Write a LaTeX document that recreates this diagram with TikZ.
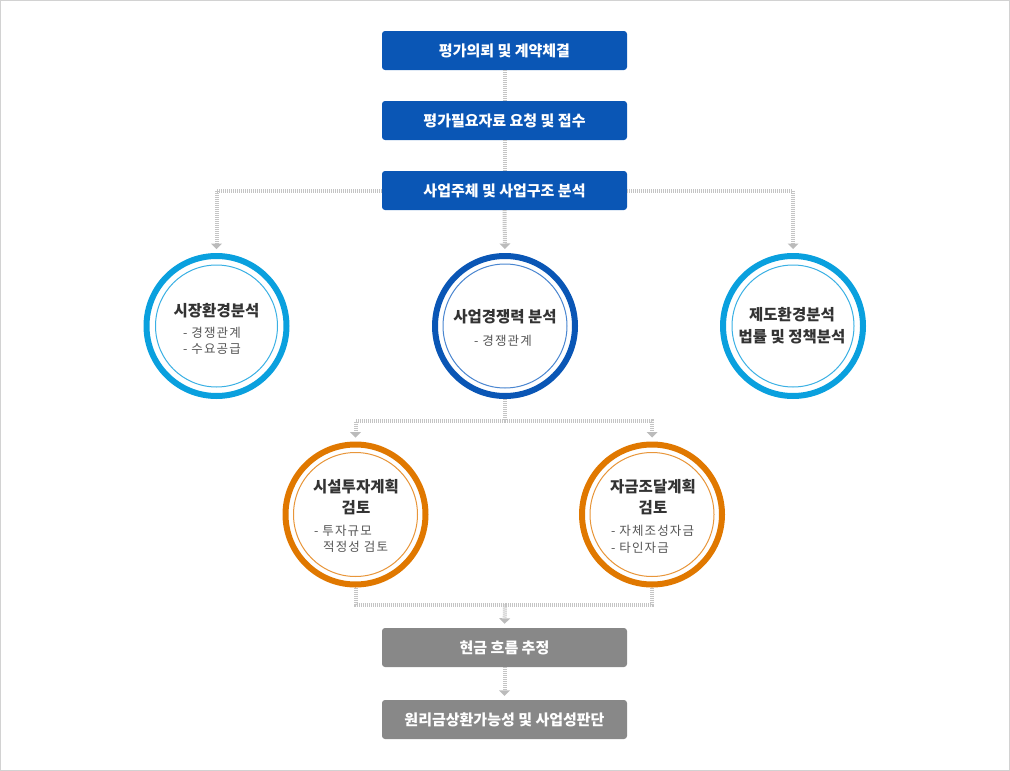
\documentclass[tikz,border=0pt]{standalone}
\usepackage{fontspec}
\setmainfont{Noto Sans CJK KR}
\newfontfamily\krsp[LetterSpace=9]{Noto Sans CJK KR}
\usetikzlibrary{arrows.meta}
\definecolor{boxblue}{HTML}{0A56B5}
\definecolor{boxgray}{HTML}{888888}
\definecolor{ltblue}{HTML}{0AA0DE}
\definecolor{ltblueIn}{HTML}{3AB0E4}
\definecolor{dkblue}{HTML}{0A56B5}
\definecolor{dkblueIn}{HTML}{4A86D0}
\definecolor{orng}{HTML}{E07800}
\definecolor{orngIn}{HTML}{E8963A}
\definecolor{connc}{HTML}{C4C4C4}
\definecolor{arrc}{HTML}{BBBBBB}
\definecolor{frame}{HTML}{D2D2D2}
\definecolor{ttl}{HTML}{333333}
\definecolor{sub}{HTML}{555555}
\begin{document}
\begin{tikzpicture}[x=1pt,y=-1pt,
  box/.style={rounded corners=3pt, minimum width=245pt, minimum height=39pt, inner sep=0pt, text=white, font=\bfseries\fontsize{15}{17}\selectfont},
  bluebox/.style={box, fill=boxblue},
  graybox/.style={box, fill=boxgray},
  ring/.style={circle, line width=6pt, minimum size=140pt, inner sep=0pt, fill=white},
  inring/.style={line width=1pt},
  conn/.style={draw=connc, line width=4pt, dash pattern=on 1pt off 1pt},
  arr/.style={conn, -{Triangle[width=11pt,length=5.5pt,line width=0pt,color=arrc]}, shorten >=4pt},
  ttlt/.style={inner sep=0pt, text=ttl, font=\bfseries\fontsize{15.5}{18}\selectfont},
  subt/.style={inner sep=0pt, anchor=west, text=sub, font=\krsp\fontsize{12.5}{15}\selectfont},
]
\useasboundingbox (0,0) rectangle (1010,771);
\draw[frame, line width=1pt] (0.5,0.5) rectangle (1009.5,770.5);

% boxes
\node[bluebox] (b1) at (504.5,50.5) {평가의뢰 및 계약체결};
\node[bluebox] (b2) at (504.5,120.5) {평가필요자료 요청 및 접수};
\node[bluebox] (b3) at (504.5,190.5) {사업주체 및 사업구조 분석};
\node[graybox] (b4) at (504.5,647.5) {현금 흐름 추정};
\node[graybox] (b5) at (504.5,719.5) {원리금상환가능성 및 사업성판단};

% circles
\node[ring, draw=ltblue] (c1) at (216.5,326) {};
\node[ring, draw=dkblue] (c2) at (505,326) {};
\node[ring, draw=ltblue] (c3) at (793,326) {};
\node[ring, draw=orng] (o1) at (355.5,514.5) {};
\node[ring, draw=orng] (o2) at (652,514.5) {};
\draw[inring, ltblueIn] (c1.center) circle[radius=61pt];
\draw[inring, dkblueIn] (c2.center) circle[radius=62pt];
\draw[inring, ltblueIn] (c3.center) circle[radius=61pt];
\draw[inring, orngIn] (o1.center) circle[radius=62pt];
\draw[inring, orngIn] (o2.center) circle[radius=62pt];

% junctions
\coordinate (j1) at (505,421);
\coordinate (j2) at (505,604.5);

% connectors
\draw[conn] (b1.south) -- (b2.north);
\draw[conn] (b2.south) -- (b3.north);
\draw[arr] (b3.west) -| (c1.north);
\draw[arr] (b3.south) -- (c2.north);
\draw[arr] (b3.east) -| (c3.north);
\draw[conn] (c2.south) -- (j1);
\draw[arr] (j1) -| (o1.north);
\draw[arr] (j1) -| (o2.north);
\draw[conn] (o1.south) |- (j2);
\draw[conn] (o2.south) |- (j2);
\draw[arr] (j2) -- (b4.north);
\draw[arr] (b4.south) -- (b5.north);

% circle texts
\node[ttlt] (t1) at (216.5,311) {시장환경분석};
\node[subt] (s1a) at (183,332.5) {- 경쟁관계};
\node[subt] (s1b) at (183,349.5) {- 수요공급};

\node[ttlt] (t2) at (505,317) {사업경쟁력 분석};
\node[subt] (s2a) at (474,341) {- 경쟁관계};

\node[ttlt] (t3a) at (792,315) {제도환경분석};
\node[ttlt] (t3b) at (792,337) {법률 및 정책분석};

\node[ttlt] (t4a) at (356,487) {시설투자계획};
\node[ttlt] (t4b) at (356,508) {검토};
\node[subt] (s4a) at (314,531) {- 투자규모};
\node[subt] (s4b) at (323,547) {적정성 검토};

\node[ttlt] (t5a) at (653,487) {자금조달계획};
\node[ttlt] (t5b) at (653,508) {검토};
\node[subt] (s5a) at (611,531) {- 자체조성자금};
\node[subt] (s5b) at (611,547.5) {- 타인자금};
\end{tikzpicture}
\end{document}
